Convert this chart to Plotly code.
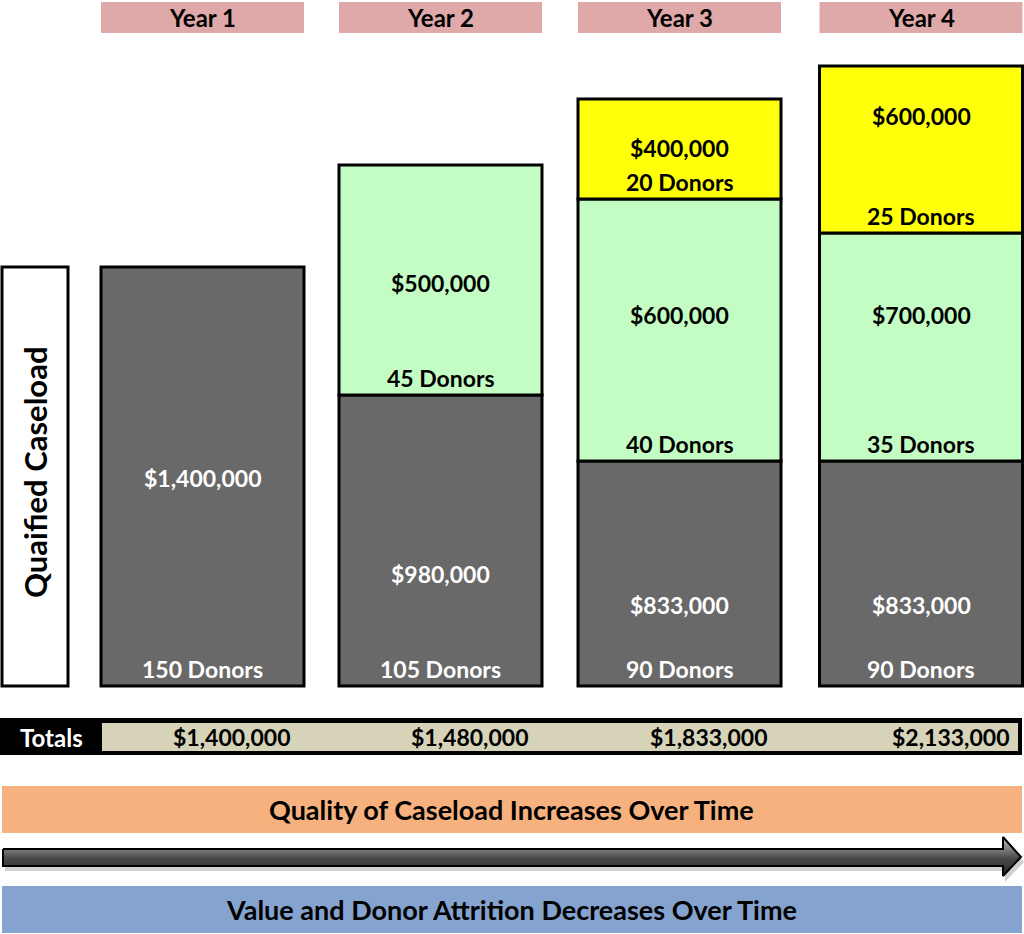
import plotly.graph_objects as go

# ---------------- data ----------------
years = ["Year 1", "Year 2", "Year 3", "Year 4"]
base_values = [1400000, 980000, 833000, 833000]
base_donors = [150, 105, 90, 90]
growth_values = [None, 500000, 600000, 700000]
growth_donors = [None, 45, 40, 35]
major_values = [None, None, 400000, 600000]
major_donors = [None, None, 20, 25]
totals = [1400000, 1480000, 1833000, 2133000]
# visual segment heights (arbitrary units)
base_height = [419, 291, 225, 225]
growth_height = [0, 230, 262, 228]
major_height = [0, 0, 100, 167]

# ---------------- layout constants ----------------
W, H = 1024, 934
BASE_PX = 686  # pixel row of the bar baseline
centers = [202.5, 440.5, 679.5, 921]
bar_w = 203
FONT = "Lato"
value_drop = {"base": [211, 179, 144, 144], "growth": [None, 118, 116, 82], "major": [None, None, 49, 50]}
donor_rise = 17


def py(p):
    """pixel row -> data y"""
    return BASE_PX - p


fig = go.Figure()

segments = [
    ("base", base_height, base_values, base_donors, "#696969", "white"),
    ("growth", growth_height, growth_values, growth_donors, "#C4FDC4", "black"),
    ("major", major_height, major_values, major_donors, "#FFFF0A", "black"),
]

bases = [0, 0, 0, 0]
annotations = []
for key, heights, vals, donors, color, tcol in segments:
    xs, ys, bs = [], [], []
    for i, h in enumerate(heights):
        if h > 0:
            xs.append(centers[i]); ys.append(h); bs.append(bases[i])
            top = bases[i] + h
            annotations.append(dict(x=centers[i], y=top - value_drop[key][i], text=f"<b>${vals[i]:,}</b>",
                                    showarrow=False, font=dict(family=FONT, size=23, color=tcol)))
            annotations.append(dict(x=centers[i], y=bases[i] + donor_rise, text=f"<b>{donors[i]} Donors</b>",
                                    showarrow=False, font=dict(family=FONT, size=23, color=tcol)))
    fig.add_trace(go.Bar(x=xs, y=ys, base=bs, width=bar_w, marker=dict(color=color, line=dict(color="black", width=3)),
                         hoverinfo="skip", showlegend=False))
    for i, h in enumerate(heights):
        bases[i] += h

shapes = []
# year headers
for i, y in enumerate(years):
    shapes.append(dict(type="rect", x0=centers[i] - 101.5, x1=centers[i] + 101.5, y0=py(33), y1=py(2),
                       fillcolor="#E0A9A9", line=dict(width=0), layer="below"))
    annotations.append(dict(x=centers[i], y=py(17), text=f"<b>{y}</b>", showarrow=False,
                            font=dict(family=FONT, size=24, color="black")))

# left label box
shapes.append(dict(type="rect", x0=2, x1=68, y0=py(686), y1=py(267), fillcolor="white",
                   line=dict(color="black", width=3)))
annotations.append(dict(x=35, y=py(472), text="<b>Quaified Caseload</b>", textangle=-90, showarrow=False,
                        font=dict(family=FONT, size=31, color="black")))

# totals row
shapes.append(dict(type="rect", x0=0, x1=1022, y0=py(755), y1=py(718), fillcolor="black", line=dict(width=0)))
shapes.append(dict(type="rect", x0=102, x1=1018, y0=py(751), y1=py(723), fillcolor="#D6D3B9", line=dict(width=0)))
annotations.append(dict(x=51, y=py(737), text="<b>Totals</b>", showarrow=False,
                        font=dict(family=FONT, size=24, color="white")))
for i, t in enumerate(totals):
    annotations.append(dict(x=centers[i] + 29, y=py(737), text=f"<b>${t:,}</b>", showarrow=False,
                            font=dict(family=FONT, size=23, color="black")))

# bands
shapes.append(dict(type="rect", x0=2, x1=1022, y0=py(833), y1=py(786), fillcolor="#F6B17E", line=dict(width=0)))
annotations.append(dict(x=511, y=py(809), text="<b>Quality of Caseload Increases Over Time</b>", showarrow=False,
                        font=dict(family=FONT, size=27, color="black")))
shapes.append(dict(type="rect", x0=2, x1=1022, y0=py(933), y1=py(886), fillcolor="#84A3CF", line=dict(width=0)))
annotations.append(dict(x=511, y=py(909), text="<b>Value and Donor Attrition Decreases Over Time</b>", showarrow=False,
                        font=dict(family=FONT, size=27, color="black")))

# arrow shadow
ax = [5, 1005, 1005, 1024, 1005, 1005, 5, 5]
ay = [851, 851, 839, 859, 879, 868, 868, 851]
fig.add_trace(go.Scatter(x=ax, y=[py(v + 3) for v in ay], fill="toself", fillcolor="rgba(0,0,0,0.18)",
                         mode="lines", line=dict(width=0), hoverinfo="skip", showlegend=False))
# arrow
ax = [3, 1003, 1003, 1021, 1003, 1003, 3, 3]
ay = [849, 849, 837, 857, 876, 866, 866, 849]
fig.add_trace(go.Scatter(x=ax, y=[py(v) for v in ay], fill="toself",
                         fillgradient=dict(type="vertical", start=py(876), stop=py(837),
                                           colorscale=[[0, "#222222"], [0.45, "#4a4a4a"], [0.75, "#8a8a8a"], [1, "#c0c0c0"]]),
                         mode="lines", line=dict(color="black", width=2), hoverinfo="skip", showlegend=False))

fig.update_layout(
    width=W, height=H, margin=dict(l=0, r=0, t=0, b=0),
    paper_bgcolor="white", plot_bgcolor="white",
    xaxis=dict(range=[0, W], visible=False, fixedrange=True),
    yaxis=dict(range=[BASE_PX - H, BASE_PX], visible=False, fixedrange=True),
    shapes=shapes, annotations=annotations, barmode="overlay",
)
fig.write_html("out.html", config={"displayModeBar": False},
               post_script="document.body.style.margin='0';document.body.style.overflow='hidden';")
